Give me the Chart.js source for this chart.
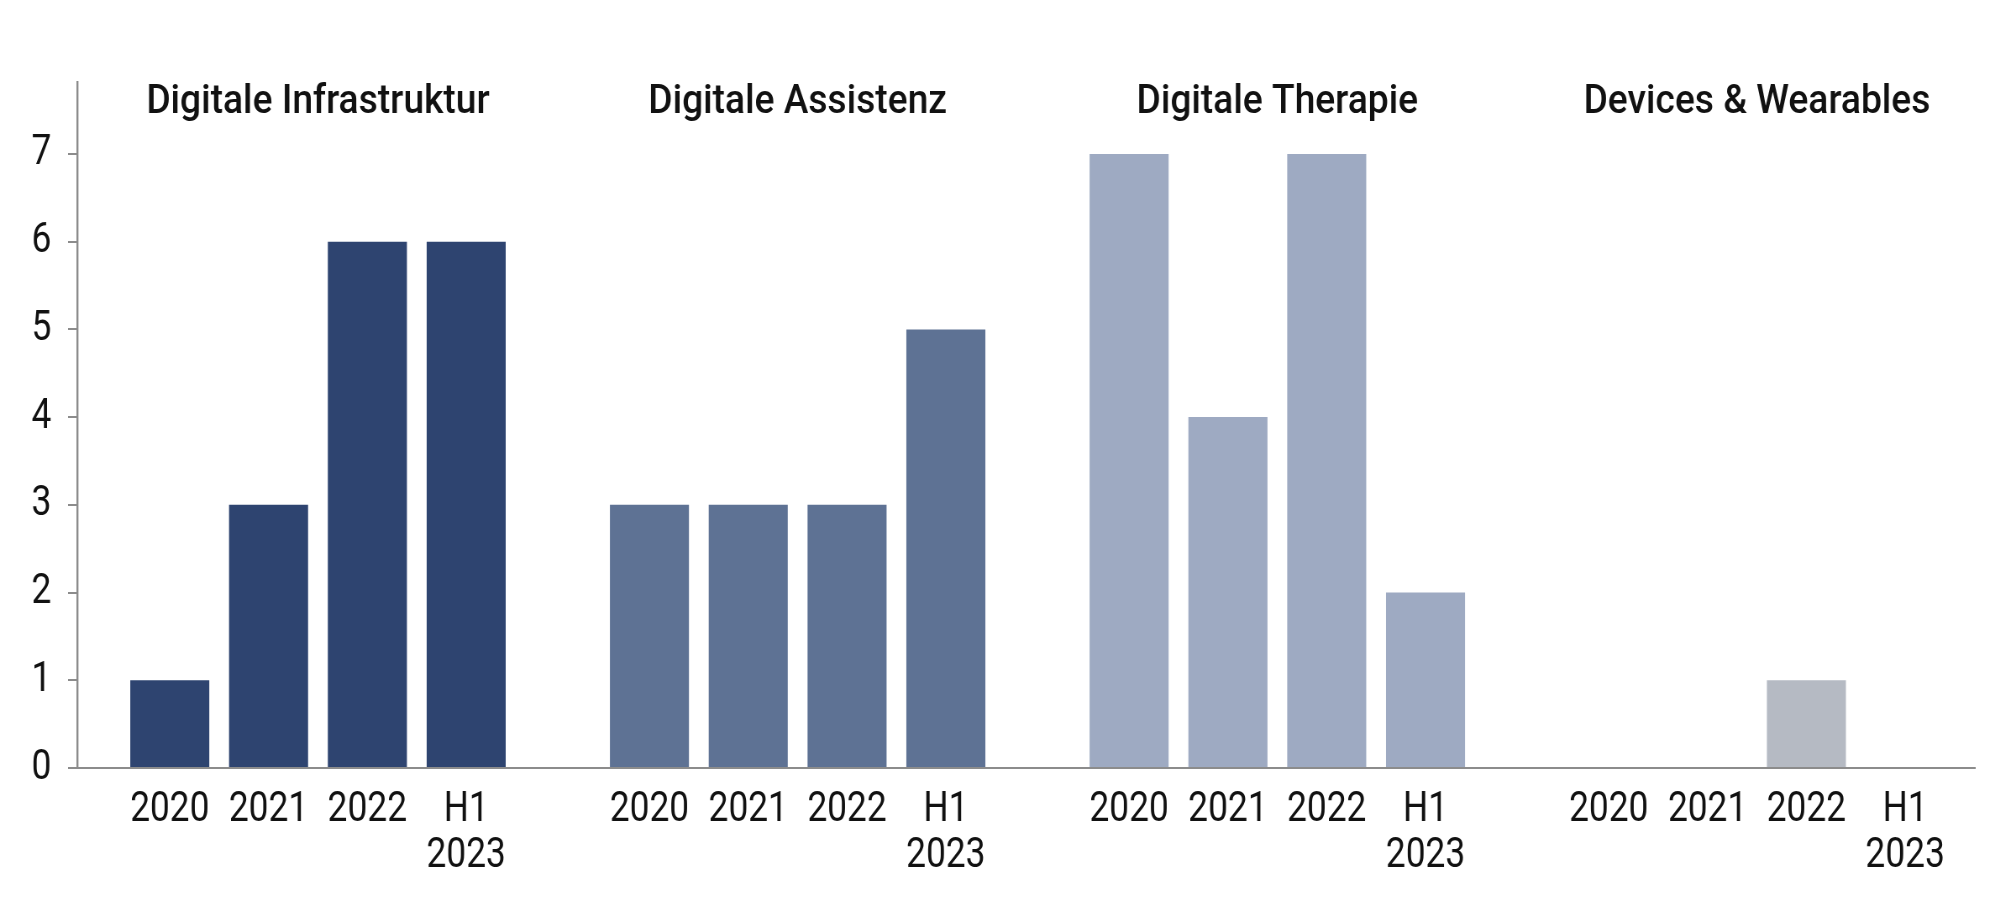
<!DOCTYPE html>
<html>
<head>
<meta charset="utf-8">
<title>Digital Health</title>
<script src="https://cdn.jsdelivr.net/npm/chart.js@4.4.0/dist/chart.umd.min.js"></script>
<style>
  html, body { margin: 0; padding: 0; background: #fff; overflow: hidden; }
  /* Schmale Schrift nachbilden: Zeichenfläche breiter rendern und horizontal stauchen */
  #wrap { width: 2388px; height: 916px; transform: scaleX(0.84); transform-origin: 0 0; }
</style>
</head>
<body>
<div id="wrap"><canvas id="chart"></canvas></div>
<script>
// Daten
const groups = ['Digitale Infrastruktur', 'Digitale Assistenz', 'Digitale Therapie', 'Devices & Wearables'];
const years = [['2020'], ['2021'], ['2022'], ['H1', '2023']];
const infrastruktur = [1, 3, 6, 6];
const assistenz = [3, 3, 3, 5];
const therapie = [7, 4, 7, 2];
const devices = [0, 0, 1, 0];
const yTicks = [0, 1, 2, 3, 4, 5, 6, 7];

const series = [infrastruktur, assistenz, therapie, devices];
const colors = ['#2e4470', '#5e7294', '#9eaac2', '#b5bac3'];

// Layout: Abstand zwischen den Gruppen (in Balkenbreiten)
const GROUP_STEP = 4.855;
const FONT = "Roboto, 'Noto Sans', sans-serif";

const positions = [];
const labelAt = {};
groups.forEach((g, gi) => {
  years.forEach((y, yi) => {
    const x = gi * GROUP_STEP + yi;
    positions.push(x);
    labelAt[x.toFixed(3)] = y;
  });
});

const datasets = series.map((vals, gi) => ({
  label: groups[gi],
  data: vals.map((v, yi) => ({ x: gi * GROUP_STEP + yi, y: v })),
  backgroundColor: colors[gi],
  borderWidth: 0,
  grouped: false,
  categoryPercentage: 1,
  barPercentage: 0.8
}));

// Gruppentitel oben
const groupTitles = {
  id: 'groupTitles',
  afterDraw(chart) {
    const ctx = chart.ctx;
    const xs = chart.scales.x;
    groups.forEach((g, gi) => {
      const cx = xs.getPixelForValue(gi * GROUP_STEP + 1.5);
      ctx.save();
      ctx.font = '500 41px ' + FONT;
      ctx.fillStyle = '#111';
      ctx.textAlign = 'center';
      ctx.textBaseline = 'alphabetic';
      ctx.translate(cx, 113);
      ctx.scale(1.08, 1);
      ctx.fillText(g, 0, 0);
      ctx.restore();
    });
  }
};

new Chart(document.getElementById('chart'), {
  type: 'bar',
  data: { datasets },
  plugins: [groupTitles],
  options: {
    responsive: true,
    maintainAspectRatio: false,
    animation: false,
    devicePixelRatio: 1,
    layout: { padding: { top: 82, right: 37, left: 0, bottom: 0 } },
    plugins: { legend: { display: false }, tooltip: { enabled: false } },
    scales: {
      x: {
        type: 'linear',
        offset: false,
        min: -0.936,
        max: 18.27,
        grid: { display: false, drawTicks: false, offset: false },
        border: { display: true, color: '#8c8c8c', width: 2 },
        afterBuildTicks(axis) {
          axis.ticks = positions.map(v => ({ value: v }));
        },
        afterFit(axis) { axis.height = 148; },
        ticks: {
          autoSkip: false,
          maxRotation: 0,
          minRotation: 0,
          padding: 20,
          color: '#111',
          font: { family: FONT, size: 42, lineHeight: 1.08 },
          callback: (v) => labelAt[Number(v).toFixed(3)] || ''
        }
      },
      y: {
        min: 0,
        max: 7.82,
        grid: { drawOnChartArea: false, drawTicks: true, tickLength: 11, color: '#8c8c8c', lineWidth: 2 },
        border: { display: true, color: '#8c8c8c', width: 2.4 },
        afterBuildTicks(axis) {
          axis.ticks = yTicks.map(v => ({ value: v }));
        },
        afterFit(axis) { axis.width = 92; },
        ticks: {
          padding: 20,
          color: '#111',
          font: { family: FONT, size: 42 }
        }
      }
    }
  }
});
</script>
</body>
</html>
